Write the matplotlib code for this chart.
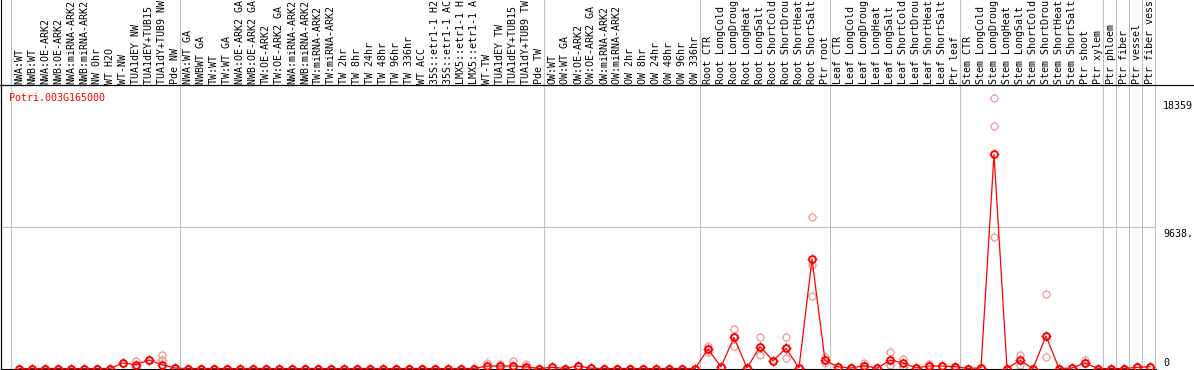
import matplotlib
matplotlib.use("Agg")
import matplotlib.pyplot as plt
import matplotlib.transforms as mtrans
from matplotlib.lines import Line2D
from matplotlib.path import Path

# ---------------- data ----------------
gene = "Potri.003G165000"

labels_nw = ["NWA:WT", "NWB:WT", "NWA:OE-ARK2", "NWB:OE-ARK2", "NWA:miRNA-ARK2",
             "NWB:miRNA-ARK2", "NW 0hr", "WT H2O", "WT-NW", "TUA1dEY NW",
             "TUA1dEY+TUB15 NW", "TUA1dY+TUB9 NW", "Pde NW"]
labels_tw = ["NWA:WT GA", "NWBWT GA", "TW:WT", "TW:WT GA", "NWA:OE-ARK2 GA",
             "NWB:OE-ARK2 GA", "TW:OE-ARK2", "TW:OE-ARK2 GA", "NWA:miRNA-ARK2 GA",
             "NWB:miRNA-ARK2 GA", "TW:miRNA-ARK2", "TW:miRNA-ARK2 GA", "TW 2hr", "TW 8hr",
             "TW 24hr", "TW 48hr", "TW 96hr", "TW 336hr", "WT ACC", "35S::etr1-1 H2O",
             "35S::etr1-1 ACC", "LMX5::etr1-1 H2O", "LMX5::etr1-1 ACC", "WT-TW",
             "TUA1dEY TW", "TUA1dEY+TUB15 TW", "TUA1dY+TUB9 TW", "Pde TW"]
labels_ow = ["OW:WT", "OW:WT GA", "OW:OE-ARK2", "OW:OE-ARK2 GA", "OW:miRNA-ARK2",
             "OW:miRNA-ARK2 GA", "OW 2hr", "OW 8hr", "OW 24hr", "OW 48hr", "OW 96hr",
             "OW 336hr"]
labels_root = ["Root CTR", "Root LongCold", "Root LongDrought", "Root LongHeat",
               "Root LongSalt", "Root ShortCold", "Root ShortDrought", "Root ShortHeat",
               "Root ShortSalt", "Ptr root"]
labels_leaf = ["Leaf CTR", "Leaf LongCold", "Leaf LongDrought", "Leaf LongHeat",
               "Leaf LongSalt", "Leaf ShortCold", "Leaf ShortDrought", "Leaf ShortHeat",
               "Leaf ShortSalt", "Ptr leaf"]
labels_stem = ["Stem CTR", "Stem LongCold", "Stem LongDrought", "Stem LongHeat",
               "Stem LongSalt", "Stem ShortCold", "Stem ShortDrought", "Stem ShortHeat",
               "Stem ShortSalt", "Ptr shoot", "Ptr xylem"]
labels_phloem = ["Ptr phloem"]
labels_fiber = ["Ptr fiber"]
labels_vessel = ["Ptr vessel"]
labels_fv = ["Ptr fiber vessel"]

label_groups = [labels_nw, labels_tw, labels_ow, labels_root, labels_leaf, labels_stem,
                labels_phloem, labels_fiber, labels_vessel, labels_fv]

mean_nw = [0, 0, 0, 0, 0, 0, 0, 0, 375, 260, 580, 260, 30]
mean_tw = [0, 0, 0, 0, 0, 0, 0, 0, 0, 0, 0, 0, 0, 0, 0, 0, 0, 0, 0, 0, 0, 0, 0,
           170, 170, 170, 120, 0]
mean_ow = [80, 0, 170, 20, 0, 0, 0, 0, 0, 0, 0, 0]
mean_root = [1320, 120, 2120, 40, 1490, 530, 1380, 40, 7450, 560]
mean_leaf = [120, 30, 190, 20, 570, 380, 40, 170, 170, 130]
mean_stem = [0, 50, 14610, 0, 560, 0, 2215, 0, 30, 380, 0]
mean_ptr = [0, 0, 80, 120]

repA_nw = [0, 0, 0, 0, 0, 0, 0, 0, 375, 490, 580, 920, 30]
repA_tw = [0, 0, 0, 0, 0, 0, 0, 0, 0, 0, 0, 0, 0, 0, 0, 0, 0, 0, 0, 0, 0, 0, 0,
           355, 290, 490, 290, 0]
repA_ow = [80, 0, 170, 20, 0, 0, 0, 0, 0, 0, 0, 0]
repA_root = [1510, 120, 2680, 40, 2140, 530, 2140, 40, 10310, 800]
repA_leaf = [120, 30, 400, 20, 1100, 660, 40, 340, 170, 200]
repA_stem = [0, 50, 18430, 0, 940, 0, 5060, 0, 30, 550, 0]
repA_ptr = [0, 0, 80, 120]

repB_nw = [0, 0, 0, 0, 0, 0, 0, 0, 375, 120, 580, 580, 30]
repB_tw = [0, 0, 0, 0, 0, 0, 0, 0, 0, 0, 0, 0, 0, 0, 0, 0, 0, 0, 0, 0, 0, 0, 0,
           170, 170, 170, 60, 0]
repB_ow = [80, 0, 170, 20, 0, 0, 0, 0, 0, 0, 0, 0]
repB_root = [1150, 120, 1520, 40, 950, 530, 700, 40, 7040, 380]
repB_leaf = [120, 30, 190, 20, 270, 100, 40, 170, 170, 130]
repB_stem = [0, 50, 16560, 0, 210, 0, 770, 0, 30, 380, 0]
repB_ptr = [0, 0, 80, 120]

repC_root = [1320, 120, 2120, 40, 1490, 530, 1380, 40, 4945, 560]
repC_stem = [0, 50, 8950, 0, 560, 0, 2215, 0, 30, 380, 0]

ytick_vals = [18359, 9638, 0]
ytick_text = ["18359", "9638.", "0"]
grid_val = 9638

# ---------------- assemble ----------------
labels = [l for g in label_groups for l in g]
means = mean_nw + mean_tw + mean_ow + mean_root + mean_leaf + mean_stem + mean_ptr
repA = repA_nw + repA_tw + repA_ow + repA_root + repA_leaf + repA_stem + repA_ptr
repB = repB_nw + repB_tw + repB_ow + repB_root + repB_leaf + repB_stem + repB_ptr
repC = repB_nw + repB_tw + repB_ow + repC_root + repB_leaf + repC_stem + repB_ptr
xs = list(range(len(labels)))

# ---------------- layout ----------------
W, H = 1194, 370
fig = plt.figure(figsize=(W / 100, H / 100), dpi=100)
fig.patch.set_facecolor("white")

ax_l, ax_r, ax_t, ax_b = 1, 1156, 85, 369
ax = fig.add_axes([ax_l / W, 1 - ax_b / H, (ax_r - ax_l) / W, (ax_b - ax_t) / H])
x0_px, dx_px = 19, 13
ax.set_xlim((ax_l - x0_px) / dx_px, (ax_r - x0_px) / dx_px)
zero_px = 368.5
px_per_unit = 141.3 / 9638
ax.set_ylim((zero_px - ax_b) / px_per_unit, (zero_px - ax_t) / px_per_unit)
ax.set_xticks([])
ax.set_yticks([])
ax.set_facecolor("white")
for s in ["left", "top", "bottom"]:
    ax.spines[s].set_color("black")
    ax.spines[s].set_linewidth(0.8)
ax.spines["right"].set_visible(False)

mono = "DejaVu Sans Mono"
fs = 7.2
gray = "#c0c0c0"
blend_xfig = mtrans.blended_transform_factory(ax.transData, fig.transFigure)
blend_fy = mtrans.blended_transform_factory(fig.transFigure, ax.transData)

# horizontal grid line
ax.axhline(grid_val, color=gray, lw=0.8, zorder=1)

# group separators (full height)
bounds = [0]
for g in label_groups:
    bounds.append(bounds[-1] + len(g))
y_bot_fig = 1 - ax_b / H
for b in bounds:
    bx = b - 0.64
    ax.plot([bx, bx], [y_bot_fig, 1.0], color=gray, lw=0.8, transform=blend_xfig,
            clip_on=False, zorder=1)

# header line and left border
fig.add_artist(Line2D([0, 1], [1 - ax_t / H, 1 - ax_t / H], color="black", lw=0.8,
                      transform=fig.transFigure))
fig.add_artist(Line2D([ax_l / W, ax_l / W], [y_bot_fig, 1], color="black", lw=0.8,
                      transform=fig.transFigure))

# header labels
max_chars = 14
for x, lab in zip(xs, labels):
    ax.text(x, 1 - 83.5 / H, lab[:max_chars], rotation=90, ha="center", va="bottom",
            fontsize=fs, family=mono, color="black", transform=blend_xfig, clip_on=False)

# tiny spikes around the circle (pixel-circle look)
spike = Path([(0, 0.8), (0, 1), (0, -0.8), (0, -1), (0.8, 0), (1, 0), (-0.8, 0), (-1, 0)],
             [Path.MOVETO, Path.LINETO] * 4)

pink = "#f09a9a"
red = "#ff0000"
for rep in (repA, repB, repC):
    ax.plot(xs, rep, ls="none", marker="o", ms=5.0, mfc="none", mec=pink, mew=0.9, zorder=2)
    ax.plot(xs, rep, ls="none", marker=spike, ms=7.0, mec=pink, mew=0.6, zorder=2)

ax.plot(xs, means, color=red, lw=0.9, zorder=3)
ax.plot(xs, means, ls="none", marker="o", ms=4.9, mfc="none", mec=red, mew=1.4, zorder=4)
ax.plot(xs, means, ls="none", marker=spike, ms=7.4, mec=red, mew=0.7, zorder=4)

# right-hand value labels
tick_x_fig = 1163 / W
for v, t in zip(ytick_vals, ytick_text):
    if v == 0:
        off = mtrans.offset_copy(blend_fy, fig=fig, x=0, y=2.5 * 72 / 100, units="points")
        ax.text(tick_x_fig, v, t, ha="left", va="baseline", fontsize=fs, family=mono,
                transform=off, clip_on=False)
    else:
        off = mtrans.offset_copy(blend_fy, fig=fig, x=0, y=-2.0 * 72 / 100, units="points")
        ax.text(tick_x_fig, v, t, ha="left", va="top", fontsize=fs, family=mono,
                transform=off, clip_on=False)

# gene name
fig.text(9 / W, 1 - 101 / H, gene, color=red, ha="left", va="baseline", fontsize=fs,
         family=mono)

fig.savefig("out.png", dpi=100, facecolor="white")
